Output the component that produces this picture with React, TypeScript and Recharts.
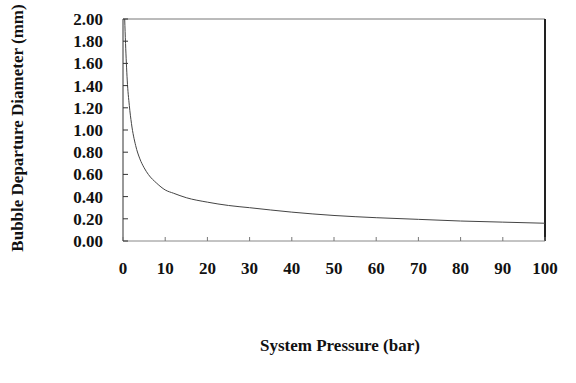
import { LineChart, Line, XAxis, YAxis, ReferenceLine } from 'recharts';

const pressureBar = [0.4, 0.6, 0.8, 1, 1.5, 2, 3, 4, 5, 6, 8, 10, 12, 15, 20, 25, 30, 40, 50, 60, 70, 80, 90, 100];
const diameterMm = [2.0, 1.78, 1.6, 1.45, 1.22, 1.06, 0.86, 0.74, 0.66, 0.6, 0.52, 0.46, 0.43, 0.39, 0.35, 0.32, 0.3, 0.26, 0.23, 0.21, 0.195, 0.18, 0.17, 0.16];
const xTicks = [0, 10, 20, 30, 40, 50, 60, 70, 80, 90, 100];
const yTicks = [0, 0.2, 0.4, 0.6, 0.8, 1.0, 1.2, 1.4, 1.6, 1.8, 2.0];

const data = pressureBar.map((p, i) => ({ p, d: diameterMm[i] }));

const font = '"Liberation Serif", "DejaVu Serif", serif';

function YTick({ x, y, payload }: { x?: number; y?: number; payload?: { value: number } }) {
  if (x == null || y == null || !payload) return null;
  return (
    <g>
      <line x1={x} x2={x + 5} y1={y} y2={y} stroke="#333" strokeWidth={1} />
      <text x={x - 20} y={y} dy="0.35em" textAnchor="end" style={{ fontFamily: font, fontWeight: 'bold', fontSize: 17 }} fill="#111">
        {payload.value.toFixed(2)}
      </text>
    </g>
  );
}

function XTick({ x, y, payload }: { x?: number; y?: number; payload?: { value: number } }) {
  if (x == null || y == null || !payload) return null;
  return (
    <g>
      <line x1={x} x2={x} y1={y} y2={y - 4} stroke="#777" strokeWidth={1} />
      <text x={x} y={y + 27} dy="0.35em" textAnchor="middle" style={{ fontFamily: font, fontWeight: 'bold', fontSize: 17 }} fill="#111">
        {payload.value}
      </text>
    </g>
  );
}

export default function App() {
  return (
    <div style={{ width: 576, height: 383, background: '#fff' }}>
      <style>{`body{margin:0}`}</style>
      <LineChart width={576} height={383} data={data} margin={{ top: 19, right: 31, bottom: 0, left: 0 }}>
        <XAxis
          type="number"
          dataKey="p"
          domain={[0, 100]}
          ticks={xTicks}
          interval={0}
          axisLine={{ stroke: '#888', strokeWidth: 1 }}
          tickLine={false}
          tickSize={0}
          tickMargin={0}
          height={142}
          tick={<XTick />}
          label={{
            value: 'System Pressure (bar)',
            position: 'insideBottom',
            offset: 32,
            dx: 6,
            style: { fontFamily: font, fontWeight: 'bold', fontSize: 17, fill: '#111' },
          }}
        />
        <YAxis
          type="number"
          domain={[0, 2]}
          ticks={yTicks}
          interval={0}
          width={123}
          axisLine={{ stroke: '#333', strokeWidth: 1 }}
          tickLine={false}
          tickSize={0}
          tickMargin={0}
          tick={<YTick />}
          label={{
            value: 'Bubble Departure Diameter (mm)',
            angle: -90,
            position: 'insideLeft',
            offset: 17,
            dy: -2,
            style: { textAnchor: 'middle', fontFamily: font, fontWeight: 'bold', fontSize: 17, fill: '#111' },
          }}
        />
        <ReferenceLine y={2} stroke="#777" strokeWidth={1} />
        <ReferenceLine x={100} stroke="#222" strokeWidth={2} />
        <Line
          type="monotone"
          dataKey="d"
          stroke="#444"
          strokeWidth={1}
          dot={false}
          isAnimationActive={false}
        />
      </LineChart>
    </div>
  );
}
